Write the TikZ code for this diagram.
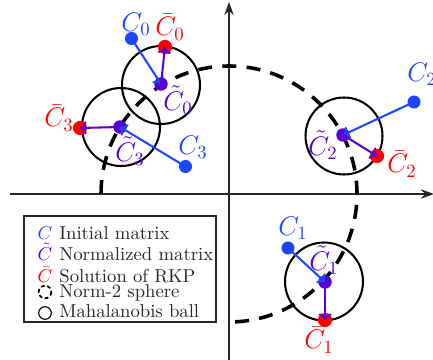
\documentclass[tikz,border=0pt]{standalone}
\usetikzlibrary{arrows.meta}
\definecolor{cblue}{RGB}{30,70,255}
\definecolor{cpurple}{RGB}{90,0,210}
\definecolor{cred}{RGB}{255,0,0}
\tikzset{
  dot/.style={circle,inner sep=0pt,minimum size=7.2pt,draw=none},
  bluedot/.style={dot,fill=cblue,minimum size=7pt},
  purpdot/.style={dot,fill=cpurple},
  reddot/.style={dot,fill=cred,minimum size=7.6pt},
  lbl/.style={inner sep=0pt,font=\Large},
  ball/.style={draw=black,line width=1.1pt},
  sphere/.style={draw=black,line width=1.9pt,dash pattern=on 7.5pt off 5.5pt},
  axis/.style={draw=black!85,line width=0.9pt,-{Stealth[length=7pt,width=5pt]}},
  barrow/.style={draw=cblue,line width=1.1pt,-{To[length=3.5pt,width=7pt]}},
  parrow/.style={draw=cpurple,line width=1.1pt,-{To[length=3.5pt,width=7pt]}},
  legtxt/.style={inner sep=0pt,anchor=base west,text=black!85},
  legsym/.style={inner sep=0pt,anchor=base},
}
\begin{document}
\begin{tikzpicture}[x=0.535pt,y=-0.535pt]
\useasboundingbox (0,0) rectangle (433,360);
% axes
\coordinate (O) at (229,194);
\coordinate (xs) at (10,194);
\coordinate (xe) at (434,194);
\coordinate (ys) at (229,362);
\coordinate (ye) at (229,2);
\draw[axis] (xs) -- (xe);
\draw[axis] (ys) -- (ye);
% norm-2 sphere
\draw[sphere] (O) ++(-128,0) arc[start angle=180,end angle=450,radius=128];
% balls
\draw[ball] (161,85) circle[radius=39];
\draw[ball] (121,127) circle[radius=39];
\draw[ball] (344,136) circle[radius=38.5];
\draw[ball] (324,281.5) circle[radius=39];
% points
\node[bluedot] (C0) at (131.5,38.5) {};
\node[purpdot] (T0) at (161,84) {};
\node[reddot] (B0) at (165,47) {};
\node[bluedot] (C3) at (185.5,166.5) {};
\node[purpdot] (T3) at (120,127) {};
\node[reddot] (B3) at (80,128) {};
\node[bluedot] (C2) at (414,102) {};
\node[purpdot] (T2) at (343,135) {};
\node[reddot] (B2) at (377,156) {};
\node[bluedot] (C1) at (288,248) {};
\node[purpdot] (T1) at (325,282) {};
\node[reddot] (B1) at (325,320) {};
% arrows
\draw[barrow] (C0.center) -- (T0.center);
\draw[parrow] (T0.center) -- (B0.center);
\draw[barrow] (C3.center) -- (T3.center);
\draw[parrow] (T3.center) -- (B3.center);
\draw[barrow] (C2.center) -- (T2.center);
\draw[parrow] (T2.center) -- (B2.center);
\draw[barrow] (C1.center) -- (T1.center);
\draw[parrow] (T1.center) -- (B1.center);
% labels
\node[lbl,text=cblue] (lC0) at (136,24) {$C_0$};
\node[lbl,text=cred] (lB0) at (170,27) {$\bar{C}_0$};
\node[lbl,text=cpurple] (lT0) at (178,100) {$\tilde{C}_0$};
\node[lbl,text=cblue] (lC3) at (193,147) {$C_3$};
\node[lbl,text=cred] (lB3) at (59,118) {$\bar{C}_3$};
\node[lbl,text=cpurple] (lT3) at (130,151) {$\tilde{C}_3$};
\node[lbl,text=cblue] (lC2) at (422,74) {$C_2$};
\node[lbl,text=cred] (lB2) at (402,164) {$\bar{C}_2$};
\node[lbl,text=cpurple] (lT2) at (323,145) {$\tilde{C}_2$};
\node[lbl,text=cblue] (lC1) at (293,228) {$C_1$};
\node[lbl,text=cred] (lB1) at (319,340) {$\bar{C}_1$};
\node[lbl,text=cpurple] (lT1) at (324,260) {$\tilde{C}_1$};
% legend
\draw[draw=black!85,line width=0.6pt,fill=white] (24,216) rectangle (216,322);
\node[legsym,text=cblue] (s1) at (45,239) {$C$};
\node[legtxt] (t1) at (59,239) {Initial matrix};
\node[legsym,text=cpurple] (s2) at (45,260) {$\tilde{C}$};
\node[legtxt] (t2) at (59,260) {Normalized matrix};
\node[legsym,text=cred] (s3) at (45,282) {$\bar{C}$};
\node[legtxt] (t3) at (59,282) {Solution of RKP};
\draw[draw=black,line width=0.9pt,dash pattern=on 2pt off 1.4pt] (45,292) circle[radius=6.3];
\node[legtxt] (t4) at (59,297) {Norm-2 sphere};
\draw[draw=black,line width=0.6pt] (45,313) circle[radius=6.3];
\node[legtxt] (t5) at (59,317) {Mahalanobis ball};
\end{tikzpicture}
\end{document}
